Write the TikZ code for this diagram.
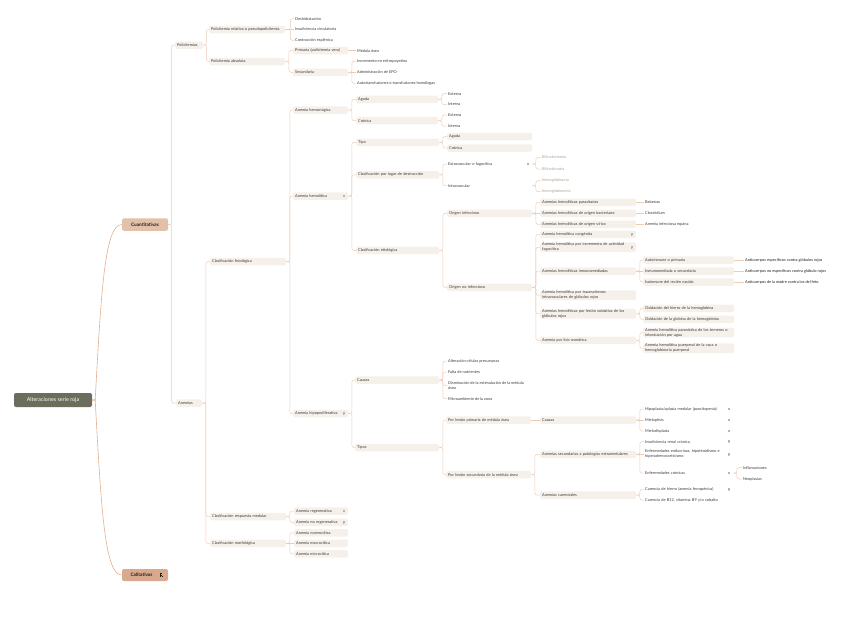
\documentclass[tikz,border=0pt]{standalone}
\usepackage{fontspec}
\setmainfont{Lato}
\definecolor{boxc}{HTML}{F6F0EB}
\definecolor{lnc}{HTML}{EDCBB4}
\definecolor{rlnc}{HTML}{E2B091}
\definecolor{rootc}{HTML}{6B6E5C}
\definecolor{cuanc}{HTML}{E3C0A8}
\definecolor{calic}{HTML}{D9A98E}
\definecolor{txc}{HTML}{3F3935}
\definecolor{txd}{HTML}{221E1B}
\definecolor{grayc}{HTML}{AFA296}
\definecolor{iconc}{HTML}{BDB3AB}
\newcommand\fs{\fontsize{3.9}{5}\selectfont}
\newcommand\lk[3][3.5]{\draw[conn] (#2.east) -- ++(#1,0) |- (#3.west);}
\newcommand\ls[2]{\draw[conn] (#1.east) -- (#2.west);}
\tikzset{
  conn/.style={draw=lnc, line width=0.5pt, rounded corners=2pt},
  rconn/.style={draw=rlnc, line width=0.6pt},
  bx/.style={fill=boxc, rounded corners=1.5pt, anchor=west, inner xsep=2pt, inner ysep=0.6pt, minimum height=7.5pt, text width=#1pt, align=left, font=\fs, text=txc},
  tx/.style={anchor=west, inner xsep=1pt, inner ysep=0.6pt, minimum height=7.5pt, font=\fs, text=txc, align=left},
  txw/.style={anchor=west, inner xsep=1pt, inner ysep=0.6pt, minimum height=7.5pt, font=\fs, text=txc, align=left, text width=#1pt},
  nicon/.pic={\fill[iconc!45] (-0.8,-1.2) rectangle (0.9,1.2);
              \draw[iconc, line width=0.35pt] (-0.8,-1.3) -- (-0.8,1.3);
              \draw[iconc, line width=0.3pt] (-0.8,-1.1) -- (0.9,-1.1) (-0.8,-0.1) -- (0.6,-0.1);},
  dicon/.pic={\draw[txd, line width=0.45pt] (-1,-1.6) -- (-1,1.6);
              \draw[txd, line width=0.4pt] (-1,-1.4) -- (1.1,-1.4) (-1,-0.1) -- (0.8,-0.1) (0.3,0.8) -- (1.1,0.8);}
}
\begin{document}
\begin{tikzpicture}[x=1pt,y=-1pt]
\useasboundingbox (0,0) rectangle (848,632);

% root and main branches
\node[fill=rootc, rounded corners=2pt, minimum width=78pt, minimum height=14pt, inner sep=0pt, text=white, font=\fontsize{5.4}{6}\selectfont] (root) at (53,400) {Alteraciones serie roja};
\node[fill=cuanc, rounded corners=2pt, minimum width=46pt, minimum height=12.5pt, inner sep=0pt, text=txd, font=\fontsize{4.7}{5}\selectfont\bfseries] (cuan) at (145,224.5) {Cuantitativas};
\node[fill=calic, rounded corners=2pt, minimum width=46pt, minimum height=12pt, inner sep=0pt, text=txd, font=\fontsize{4.7}{5}\selectfont\bfseries] (cali) at (145,575) {Calitativas\hspace*{7pt}};
\pic at ([xshift=-7pt]cali.east) {dicon};

\draw[rconn] (root.east) -- ++(3,0) .. controls +(6,-110) and +(-17,0) .. (cuan.west);
\draw[rconn] (root.east) -- ++(3,0) .. controls +(6,110) and +(-17,0) .. (cali.west);

% level 2
\node[bx=24] (pol) at (175,45) {Policitemias};
\node[bx=22] (ane) at (176,403) {Anemias};

% Policitemias
\node[bx=72] (polrel) at (209,29.5) {Policitemia relativa o pseudopolicitemia};
\node[bx=72] (polabs) at (209,61.5) {Policitemia absoluta};
\node[tx] (desh) at (294,18.7) {Deshidratación};
\node[tx] (insuf) at (294,29.5) {Insuficiencia circulatoria};
\node[tx] (contr) at (294,40.3) {Contracción esplénica};
\node[bx=51] (prim) at (293,50.7) {Primaria (policitemia vera)};
\node[bx=51] (secu) at (293,72.3) {Secundaria};
\node[tx] (medu) at (356,50.7) {Médula ósea};
\node[tx] (incre) at (356,61.3) {Incremento en eritropoyetina};
\node[tx] (admin) at (356,72.3) {Administración de EPO};
\node[tx] (autot) at (356,83.3) {Autotransfusiones o transfusiones homólogas};

% Anemias
\node[bx=72] (cfis) at (210,261.7) {Clasificación fisiológica};
\node[bx=72] (cresp) at (210,516.6) {Clasificación respuesta medular};
\node[bx=72] (cmorf) at (210,543.3) {Clasificación morfológica};

\node[bx=51] (ahem) at (293,110) {Anemia hemorrágica};
\node[bx=51] (ahemo) at (293,196) {Anemia hemolítica};
\node[bx=51] (ahipo) at (293,413.6) {Anemia hipoproliferativa};
\pic at ([xshift=-4pt]ahemo.east) {nicon};
\pic at ([xshift=-4pt]ahipo.east) {nicon};

\node[bx=50] (areg) at (294,511) {Anemia regenerativa};
\node[bx=50] (anoreg) at (294,522.3) {Anemia no regenerativa};
\pic at ([xshift=-4pt]areg.east) {nicon};
\pic at ([xshift=-4pt]anoreg.east) {nicon};
\node[bx=50] (anorm) at (294,532.8) {Anemia normocítica};
\node[bx=50] (amacro) at (294,543.3) {Anemia macrocítica};
\node[bx=50] (amicro) at (294,553.8) {Anemia microcítica};

% hemorragica
\node[bx=78] (hagu) at (356,99.3) {Aguda};
\node[bx=78] (hcro) at (356,120.7) {Crónica};
\node[tx] (ext1) at (447,93.7) {Externa};
\node[tx] (int1) at (447,104.5) {Interna};
\node[tx] (ext2) at (447,115.2) {Externa};
\node[tx] (int2) at (447,126.2) {Interna};

% hemolitica
\node[bx=79] (tipo) at (356,142.3) {Tipo};
\node[bx=79] (clug) at (356,174.8) {Clasificación por lugar de destrucción};
\node[bx=79] (cetio) at (356,250.3) {Clasificación etiológica};
\node[bx=81] (tagu) at (447,136.7) {Aguda};
\node[bx=81] (tcro) at (447,148) {Crónica};
\node[txw=83] (extra) at (447,164) {Extravascular o fagocítica};
\node[txw=83] (intra) at (447,185.7) {Intravascular};
\pic at ([xshift=-4pt]extra.east) {nicon};
\node[tx, text=grayc] (bilie) at (541,157.3) {Bilirrubinemia};
\node[tx, text=grayc] (bilu) at (541,169) {Bilirrubinuria};
\node[tx, text=grayc] (hbu) at (541,180.7) {hemoglobinuria};
\node[tx, text=grayc] (hbe) at (541,191.7) {hemoglobinemia};

\node[bx=81] (oinf) at (447,213.3) {Origen infeccioso};
\node[bx=81] (onoinf) at (447,287.3) {Origen no infeccioso};
\node[bx=92] (par) at (540,202.3) {Anemias hemolíticas parasitarias};
\node[bx=92] (bact) at (540,213.3) {Anemias hemolíticas de origen bacteriano};
\node[bx=92] (vir) at (540,224.3) {Anemias hemolíticas de origen vírico};
\node[tx] (bab) at (644,202.3) {Babesias};
\node[tx] (clos) at (644,213.3) {Clostridium};
\node[tx] (aie) at (644,224.3) {Anemia infecciosa equina};

\node[bx=92] (cong) at (540,234.3) {Anemia hemolítica congénita};
\node[bx=92] (fago) at (540,247.3) {\mbox{Anemia hemolítica por incremento de actividad}\\fagocítica};
\pic at ([xshift=-4pt]cong.east) {nicon};
\pic at ([xshift=-4pt]fago.east) {nicon};
\node[bx=92] (inmu) at (540,271) {Anemias hemolíticas inmunomediadas};
\node[bx=92] (trau) at (540,295.2) {\mbox{Anemia hemolítica por traumatismos}\\\mbox{intravasculares de glóbulos rojos}};
\node[bx=92] (oxid) at (540,313.8) {\mbox{Anemias hemolíticas por lesión oxidativa de los}\\glóbulos rojos};
\node[bx=92] (osmo) at (540,340.4) {Anemia por lisis osmótica};

\node[bx=87] (autoi) at (643,260) {Autoinmune o primaria};
\node[bx=87] (inmse) at (643,271) {Inmunomediada o secundaria};
\node[bx=87] (isoi) at (643,282) {Isoinmune del recién nacido};
\node[tx, text=txd] (ac1) at (744,260) {Anticuerpos específicos contra glóbulos rojos};
\node[tx, text=txd] (ac2) at (744,271) {Anticuerpos no específicos contra glóbulo rojos};
\node[tx, text=txd] (ac3) at (744,282) {Anticuerpos de la madre contra los del feto};
\node[bx=87] (oxh) at (643,308.3) {\mbox{Oxidación del hierro de la hemoglobina}};
\node[bx=87] (oxg) at (643,319.3) {\mbox{Oxidación de la globina de la hemoglobina}};
\node[bx=87] (paro) at (643,332.5) {\mbox{Anemia hemolítica paroxística de los terneros o}\\\mbox{intoxicación por agua}};
\node[bx=87] (puer) at (643,348.3) {\mbox{Anemia hemolítica puerperal de la vaca o}\\\mbox{hemoglobinuria puerperal}};

% hipoproliferativa
\node[bx=80] (causas) at (355,380) {Causas};
\node[bx=80] (tipos) at (355,447.5) {Tipos};
\node[tx] (c1) at (447,361) {Alteración células precursoras};
\node[tx] (c2) at (447,372) {Falta de nutrientes};
\node[tx] (c3) at (447,385.5) {Disminución de la estimulación de la médula\\ósea};
\node[tx] (c4) at (447,398.7) {Microambiente de la zona};
\node[bx=81] (plp) at (446,420) {\mbox{Por lesión primaria de médula ósea}};
\node[bx=81] (pls) at (446,474.7) {\mbox{Por lesión secundaria de la médula ósea}};
\node[bx=92] (causas2) at (540,420) {Causas};
\node[txw=87] (hipo) at (644,409) {\mbox{Hipoplasia/aplasia medular (pancitopenia)}};
\node[txw=87] (mielo) at (644,420) {Mieloptisis};
\node[txw=87] (mielod) at (644,431) {Mielodisplasia};
\pic at ([xshift=-4pt]hipo.east) {nicon};
\pic at ([xshift=-4pt]mielo.east) {nicon};
\pic at ([xshift=-4pt]mielod.east) {nicon};
\node[bx=92] (sec) at (540,454.3) {\mbox{Anemias secundarias a patologías extramedulares}};
\node[bx=92] (car) at (540,495) {Anemias carenciales};
\node[txw=87] (irc) at (644,441.7) {Insuficiencia renal crónica};
\node[txw=87] (endo) at (644,454.3) {\mbox{Enfermedades endocrinas, hipotiroidismo e}\\hiperadrenocorticismo};
\node[txw=87] (ecro) at (644,473) {Enfermedades crónicas};
\pic at ([xshift=-4pt]irc.east) {nicon};
\pic at ([xshift=-4pt]endo.east) {nicon};
\pic at ([xshift=-4pt]ecro.east) {nicon};
\node[tx] (infl) at (742,467.7) {Inflamaciones};
\node[tx] (neo) at (742,479) {Neoplasias};
\node[txw=87] (fe) at (644,489.3) {\mbox{Carencia de hierro (anemia ferropénica)}};
\node[txw=87] (b12) at (644,500) {\mbox{Carencia de B12, vitamina B9 y/o cobalto}};
\pic at ([xshift=-4pt]fe.east) {nicon};

% connectors
\lk{cuan}{pol} \lk{cuan}{ane}
\lk[3]{pol}{polrel} \lk[3]{pol}{polabs}
\lk[5]{polrel}{desh} \ls{polrel}{insuf} \lk[5]{polrel}{contr}
\lk{polabs}{prim} \lk{polabs}{secu}
\ls{prim}{medu}
\lk{secu}{incre} \ls{secu}{admin} \lk{secu}{autot}
\lk{ane}{cfis} \lk{ane}{cresp} \lk{ane}{cmorf}
\lk{cfis}{ahem} \lk{cfis}{ahemo} \lk{cfis}{ahipo}
\lk{cresp}{areg} \lk{cresp}{anoreg}
\lk{cmorf}{anorm} \ls{cmorf}{amacro} \lk{cmorf}{amicro}
\lk{ahem}{hagu} \lk{ahem}{hcro}
\lk{hagu}{ext1} \lk{hagu}{int1} \lk{hcro}{ext2} \lk{hcro}{int2}
\lk{ahemo}{tipo} \lk{ahemo}{clug} \lk{ahemo}{cetio}
\lk{tipo}{tagu} \lk{tipo}{tcro}
\lk{clug}{extra} \lk{clug}{intra}
\lk{extra}{bilie} \lk{extra}{bilu} \lk{intra}{hbu} \lk{intra}{hbe}
\lk{cetio}{oinf} \lk{cetio}{onoinf}
\lk{oinf}{par} \ls{oinf}{bact} \lk{oinf}{vir}
\ls{par}{bab} \ls{bact}{clos} \ls{vir}{aie}
\lk{onoinf}{cong} \lk{onoinf}{fago} \lk{onoinf}{inmu} \lk{onoinf}{trau} \lk{onoinf}{oxid} \lk{onoinf}{osmo}
\lk{inmu}{autoi} \ls{inmu}{inmse} \lk{inmu}{isoi}
\ls{autoi}{ac1} \ls{inmse}{ac2} \ls{isoi}{ac3}
\lk{oxid}{oxh} \lk{oxid}{oxg}
\lk{osmo}{paro} \lk{osmo}{puer}
\lk{ahipo}{causas} \lk{ahipo}{tipos}
\lk{causas}{c1} \lk{causas}{c2} \lk{causas}{c3} \lk{causas}{c4}
\lk{tipos}{plp} \lk{tipos}{pls}
\ls{plp}{causas2}
\lk{causas2}{hipo} \ls{causas2}{mielo} \lk{causas2}{mielod}
\lk{pls}{sec} \lk{pls}{car}
\lk{sec}{irc} \ls{sec}{endo} \lk{sec}{ecro}
\lk{ecro}{infl} \lk{ecro}{neo}
\lk{car}{fe} \lk{car}{b12}
\end{tikzpicture}
\end{document}
